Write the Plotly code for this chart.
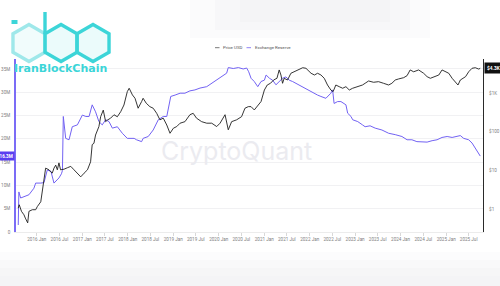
import numpy as np
import plotly.graph_objects as go

# ---------------- data ----------------
reserve_dates = [
    "2015-08-05", "2015-08-10", "2015-08-24", "2015-09-20", "2015-10-30", "2015-12-09", "2015-12-23",
    "2016-02-02", "2016-02-28", "2016-03-25", "2016-04-24", "2016-05-18", "2016-06-27", "2016-07-17",
    "2016-07-25", "2016-08-01", "2016-08-20", "2016-09-16", "2016-10-12", "2016-11-22", "2017-01-01",
    "2017-01-29", "2017-02-24", "2017-03-21", "2017-04-17", "2017-05-14", "2017-06-10", "2017-07-07",
    "2017-08-03", "2017-08-30", "2017-10-09", "2017-11-18", "2017-12-28", "2018-02-21", "2018-03-12",
    "2018-04-22", "2018-05-04", "2018-06-14", "2018-07-24", "2018-09-03", "2018-10-13", "2018-11-10",
    "2018-12-01", "2018-12-12", "2019-01-16", "2019-02-25", "2019-04-05", "2019-05-15", "2019-06-24",
    "2019-08-04", "2019-09-27", "2019-11-06", "2019-12-16", "2020-01-25", "2020-03-05", "2020-03-18",
    "2020-04-27", "2020-06-07", "2020-07-16", "2020-08-13", "2020-08-29", "2020-09-17", "2020-10-13",
    "2020-11-10", "2020-12-06", "2021-01-02", "2021-01-16", "2021-02-12", "2021-03-09", "2021-04-05",
    "2021-05-01", "2021-05-28", "2021-06-24", "2021-07-20", "2021-08-17", "2021-09-13", "2021-10-09",
    "2021-11-19", "2021-12-16", "2022-01-26", "2022-03-05", "2022-04-01", "2022-05-11", "2022-06-20",
    "2022-07-04", "2022-07-16", "2022-08-13", "2022-09-09", "2022-10-19", "2022-11-02", "2022-11-29",
    "2022-12-12", "2023-01-22", "2023-03-01", "2023-03-22", "2023-05-01", "2023-06-11", "2023-08-04",
    "2023-09-27", "2023-11-19", "2024-01-12", "2024-02-22", "2024-04-01", "2024-05-11", "2024-06-21",
    "2024-08-01", "2024-09-10", "2024-10-20", "2024-11-29", "2025-01-09", "2025-02-18", "2025-03-29",
    "2025-04-25", "2025-05-22", "2025-07-01", "2025-07-28", "2025-08-23", "2025-09-20", "2025-10-02",
]
reserve_m = [
    1.5, 8.6, 7.3, 7.6, 8.0, 9.4, 10.5,
    10.5, 10.6, 13.3, 13.0, 10.5, 11.6, 12.5,
    13.2, 24.8, 20.1, 19.8, 22.6, 23.0, 25.1,
    24.8, 24.8, 27.3, 25.8, 23.7, 23.0, 24.1,
    23.7, 22.3, 22.6, 21.2, 20.1, 20.1, 19.8,
    19.4, 20.1, 20.5, 21.9, 24.1, 24.8, 24.8,
    28.0, 29.1, 29.4, 29.8, 29.8, 30.3, 30.5,
    30.9, 31.2, 31.9, 32.6, 33.3, 34.1, 35.3,
    35.1, 35.3, 35.0, 35.2, 34.4, 33.0, 32.3,
    31.2, 32.3, 32.6, 33.7, 33.0, 32.6, 31.6,
    32.3, 33.0, 33.3, 32.6, 32.3, 31.9, 31.6,
    30.9, 30.5, 29.8, 29.4, 29.1, 28.7, 29.8,
    30.5, 27.6, 28.0, 28.0, 27.3, 25.5, 24.8,
    24.1, 23.7, 23.0, 22.6, 22.8, 22.3, 21.9,
    21.2, 20.9, 20.5, 19.8, 19.8, 19.4, 19.3,
    19.3, 19.6, 19.8, 20.3, 20.5, 20.3, 20.5,
    20.7, 20.1, 19.8, 19.1, 18.0, 16.9, 16.3,
]

price_dates = [
    "2015-08-05", "2015-08-13", "2015-08-31", "2015-09-20", "2015-10-01", "2015-10-20", "2015-10-30",
    "2015-11-26", "2015-12-23", "2016-01-05", "2016-02-02", "2016-02-15", "2016-02-28", "2016-03-12",
    "2016-04-08", "2016-05-04", "2016-05-18", "2016-06-01", "2016-06-14", "2016-06-27", "2016-07-10",
    "2016-08-07", "2016-09-03", "2016-09-30", "2016-10-26", "2016-11-22", "2016-12-19", "2017-01-15",
    "2017-02-11", "2017-03-08", "2017-03-21", "2017-04-04", "2017-04-17", "2017-05-14", "2017-05-28",
    "2017-06-18", "2017-07-07", "2017-07-20", "2017-08-16", "2017-09-12", "2017-10-09", "2017-11-05",
    "2017-12-01", "2017-12-28", "2018-01-12", "2018-01-19", "2018-02-07", "2018-02-28", "2018-03-25",
    "2018-04-22", "2018-05-04", "2018-05-29", "2018-06-27", "2018-07-24", "2018-08-21", "2018-09-16",
    "2018-10-13", "2018-11-10", "2018-12-06", "2019-01-02", "2019-01-29", "2019-02-25", "2019-04-05",
    "2019-05-15", "2019-06-10", "2019-07-07", "2019-08-17", "2019-09-27", "2019-11-06", "2019-12-16",
    "2020-01-12", "2020-02-21", "2020-03-18", "2020-04-14", "2020-05-24", "2020-07-03", "2020-07-30",
    "2020-08-26", "2020-09-17", "2020-10-13", "2020-11-10", "2020-12-06", "2021-01-02", "2021-01-25",
    "2021-02-20", "2021-03-17", "2021-04-13", "2021-05-01", "2021-05-15", "2021-05-28", "2021-06-10",
    "2021-07-07", "2021-08-03", "2021-08-30", "2021-09-26", "2021-11-06", "2021-12-02", "2022-01-12",
    "2022-02-08", "2022-03-05", "2022-04-01", "2022-04-28", "2022-05-24", "2022-06-20", "2022-07-08",
    "2022-07-30", "2022-08-26", "2022-09-23", "2022-10-19", "2022-11-15", "2022-12-12", "2023-01-22",
    "2023-03-01", "2023-03-22", "2023-04-19", "2023-05-29", "2023-07-08", "2023-08-17", "2023-09-27",
    "2023-10-23", "2023-11-19", "2023-12-16", "2024-01-26", "2024-02-22", "2024-03-18", "2024-04-15",
    "2024-05-25", "2024-07-04", "2024-08-01", "2024-08-27", "2024-09-23", "2024-11-03", "2024-11-29",
    "2024-12-26", "2025-01-22", "2025-02-18", "2025-03-15", "2025-04-06", "2025-04-25", "2025-05-22",
    "2025-06-06", "2025-07-01", "2025-07-28", "2025-08-23", "2025-09-20", "2025-10-02",
]
price_usd = [
    1.1, 1.34, 0.91, 0.74, 0.61, 0.46, 0.91,
    1.0, 1.0, 1.2, 1.6, 3.0, 6.5, 11.7,
    10.6, 8.7, 11.7, 14, 10.6, 16, 10.6,
    11, 12, 13, 10.6, 8.7, 7.0, 8.7,
    10.6, 17, 47, 51, 83, 137, 246,
    362, 183, 200, 225, 275, 245, 330,
    490, 1080, 1320, 1190, 890, 730, 405,
    600, 730, 545, 445, 405, 300, 204,
    225, 150, 92, 124, 137, 167, 183,
    276, 300, 225, 183, 167, 167, 137,
    167, 276, 113, 183, 204, 246, 405,
    445, 445, 366, 490, 600, 1190, 1600,
    1770, 2150, 2380, 3900, 2890, 1770, 2380,
    2150, 3200, 3500, 3900, 4450, 4300, 3200,
    2890, 3200, 2900, 2380, 1600, 1190, 1080,
    1600, 1450, 1320, 1450, 1190, 1320, 1450,
    1600, 1770, 2030, 1880, 1950, 1770, 1600,
    1770, 2150, 2290, 2470, 2780, 3900, 3500,
    3900, 3200, 2620, 2380, 2620, 2890, 3900,
    3500, 3200, 2380, 1950, 1600, 2150, 2470,
    2620, 3500, 4300, 4450, 4100, 4300,
]

x_tick_dates = [f"{y}-{m:02d}-01" for y in range(2016, 2026) for m in (1, 7)]
x_tick_text = [f"{y} {'Jan' if m == 1 else 'Jul'}" for y in range(2016, 2026) for m in (1, 7)]
left_tick_vals = [0, 5e6, 10e6, 15e6, 20e6, 25e6, 30e6, 35e6]
left_tick_text = ["0", "5M", "10M", "15M", "20M", "25M", "30M", "35M"]
right_tick_vals = [1, 10, 100, 1000]
right_tick_text = ["$1", "$10", "$100", "$1K"]

PURPLE = "#7262f3"
PURPLE_DARK = "#5a3ff0"
BLACK = "#1f1f1f"
CYAN = "#3cd5d8"

reserve_vals = [v * 1e6 for v in reserve_m]

fig = go.Figure()
fig.add_trace(go.Scatter(x=reserve_dates, y=reserve_vals, mode="lines", name="Exchange Reserve",
                         line=dict(color=PURPLE, width=1), yaxis="y"))
fig.add_trace(go.Scatter(x=price_dates, y=price_usd, mode="lines", name="Price USD",
                         line=dict(color=BLACK, width=0.9), yaxis="y2"))

# plot area geometry helpers (paper coords from pixel)
W, H = 500, 286
ML, MR, MT, MB = 16, 17, 59, 54
PW, PH = W - ML - MR, H - MT - MB


def pxx(x):
    return (x - ML) / PW


def pxy(y):
    return (H - MB - y) / PH


tick_font = dict(family="Roboto, sans-serif", size=4.6, color="#808080")

fig.update_layout(
    width=W, height=H,
    margin=dict(l=ML, r=MR, t=MT, b=MB, pad=0, autoexpand=False),
    paper_bgcolor="white", plot_bgcolor="white",
    showlegend=False,
    xaxis=dict(type="date", range=["2015-07-18", "2025-10-24"], automargin=False,
               tickvals=x_tick_dates, ticktext=x_tick_text, tickfont=tick_font,
               ticks="outside", ticklen=3, tickcolor="#d8d8d8", tickwidth=0.6,
               showgrid=False, showline=True, linecolor="#ececec", linewidth=0.6,
               zeroline=False),
    yaxis=dict(range=[0, 37.14e6], tickvals=left_tick_vals, ticktext=left_tick_text, automargin=False,
               tickfont=tick_font, showgrid=True, gridcolor="#f1f1f3", gridwidth=0.6,
               showline=True, linecolor="#7b6cf6", linewidth=1.6, zeroline=False,
               ticks="", ticklabelstandoff=3),
    yaxis2=dict(type="log", range=[-0.572, 3.872], overlaying="y", side="right", automargin=False,
                tickvals=right_tick_vals, ticktext=right_tick_text, tickfont=tick_font,
                showgrid=False, showline=True, linecolor="#2a2a2a", linewidth=1.4,
                zeroline=False, ticks="", ticklabelstandoff=4),
)

annotations = []
# watermark
annotations.append(dict(text="CryptoQuant", xref="paper", yref="paper", x=pxx(236), y=pxy(151),
                        showarrow=False, font=dict(family="Inter, Lato, sans-serif", size=25, color="#ebebf0")))
# last-value labels
annotations.append(dict(text="<b>16.3M</b>", xref="paper", yref="y", x=0, y=reserve_vals[-1],
                        xanchor="right", yanchor="middle", showarrow=False, bgcolor=PURPLE_DARK,
                        font=dict(family="Roboto, sans-serif", size=4.6, color="white"), borderpad=1.5,
                        xshift=-1))
annotations.append(dict(text="<b>$4.3K</b>", xref="paper", yref="y2", x=1, y=float(np.log10(price_usd[-1])),
                        xanchor="left", yanchor="middle", showarrow=False, bgcolor="#111111",
                        font=dict(family="Roboto, sans-serif", size=4.8, color="white"), borderpad=2,
                        xshift=1))
# legend
legend_font = dict(family="Roboto, sans-serif", size=4.4, color="#555555")
annotations.append(dict(text="Price USD", xref="paper", yref="paper", x=pxx(221), y=pxy(47.7),
                        xanchor="left", yanchor="middle", showarrow=False, font=legend_font))
annotations.append(dict(text="Exchange Reserve", xref="paper", yref="paper", x=pxx(253), y=pxy(47.7),
                        xanchor="left", yanchor="middle", showarrow=False, font=legend_font))
# logo text
annotations.append(dict(text="<b>IranBlockChain</b>", xref="paper", yref="paper", x=pxx(12), y=pxy(68),
                        xanchor="left", yanchor="middle", showarrow=False,
                        font=dict(family="DejaVu Sans, sans-serif", size=11, color=CYAN)))
fig.update_layout(annotations=annotations)

shapes = []
# soft background haze (top right / bottom), stacked for a gradient feel
for (x0, x1, y1, op) in [(190, 430, 38, 0.25), (215, 410, 30, 0.3), (240, 390, 22, 0.35)]:
    shapes.append(dict(type="rect", xref="paper", yref="paper", x0=pxx(x0), x1=pxx(x1), y0=pxy(y1), y1=pxy(0),
                       fillcolor="#eeeef2", opacity=op, line=dict(width=0), layer="below"))
for (yt, op) in [(252, 0.2), (260, 0.25), (268, 0.3), (276, 0.35)]:
    shapes.append(dict(type="rect", xref="paper", yref="paper", x0=pxx(0), x1=pxx(500), y0=pxy(286), y1=pxy(yt),
                       fillcolor="#f0f0f3", opacity=op, line=dict(width=0), layer="below"))
# legend line swatches
shapes.append(dict(type="line", xref="paper", yref="paper", x0=pxx(215), x1=pxx(219.5), y0=pxy(47.7), y1=pxy(47.7),
                   line=dict(color="#555555", width=0.8)))
shapes.append(dict(type="line", xref="paper", yref="paper", x0=pxx(246.5), x1=pxx(251), y0=pxy(47.7), y1=pxy(47.7),
                   line=dict(color=PURPLE, width=0.8)))


# logo hexagons (pointy-top)
def hex_path(cx, cy, r):
    pts = []
    for ang in (90, 30, -30, -90, -150, 150):
        a = np.deg2rad(ang)
        pts.append((pxx(cx + r * np.cos(a)), pxy(cy - r * np.sin(a))))
    return "M " + " L ".join(f"{x:.4f},{y:.4f}" for x, y in pts) + " Z"


for cx, col, fill in [(29, "#9fe8ea", "rgba(160,235,236,0.15)"), (61, CYAN, "rgba(60,213,216,0.10)"),
                      (93, CYAN, "rgba(60,213,216,0.10)")]:
    shapes.append(dict(type="path", xref="paper", yref="paper", path=hex_path(cx, 43, 18.5),
                       line=dict(color=col, width=3.4), fillcolor=fill, layer="above"))
# b stem
shapes.append(dict(type="line", xref="paper", yref="paper", x0=pxx(45), x1=pxx(45), y0=pxy(12), y1=pxy(34),
                   line=dict(color=CYAN, width=3.4), layer="above"))
# i dot
shapes.append(dict(type="rect", xref="paper", yref="paper", x0=pxx(11.5), x1=pxx(17.5), y0=pxy(24), y1=pxy(20),
                   fillcolor=CYAN, line=dict(width=0), layer="above"))
fig.update_layout(shapes=shapes)

fig.write_html("out.html", config={"displayModeBar": False})
